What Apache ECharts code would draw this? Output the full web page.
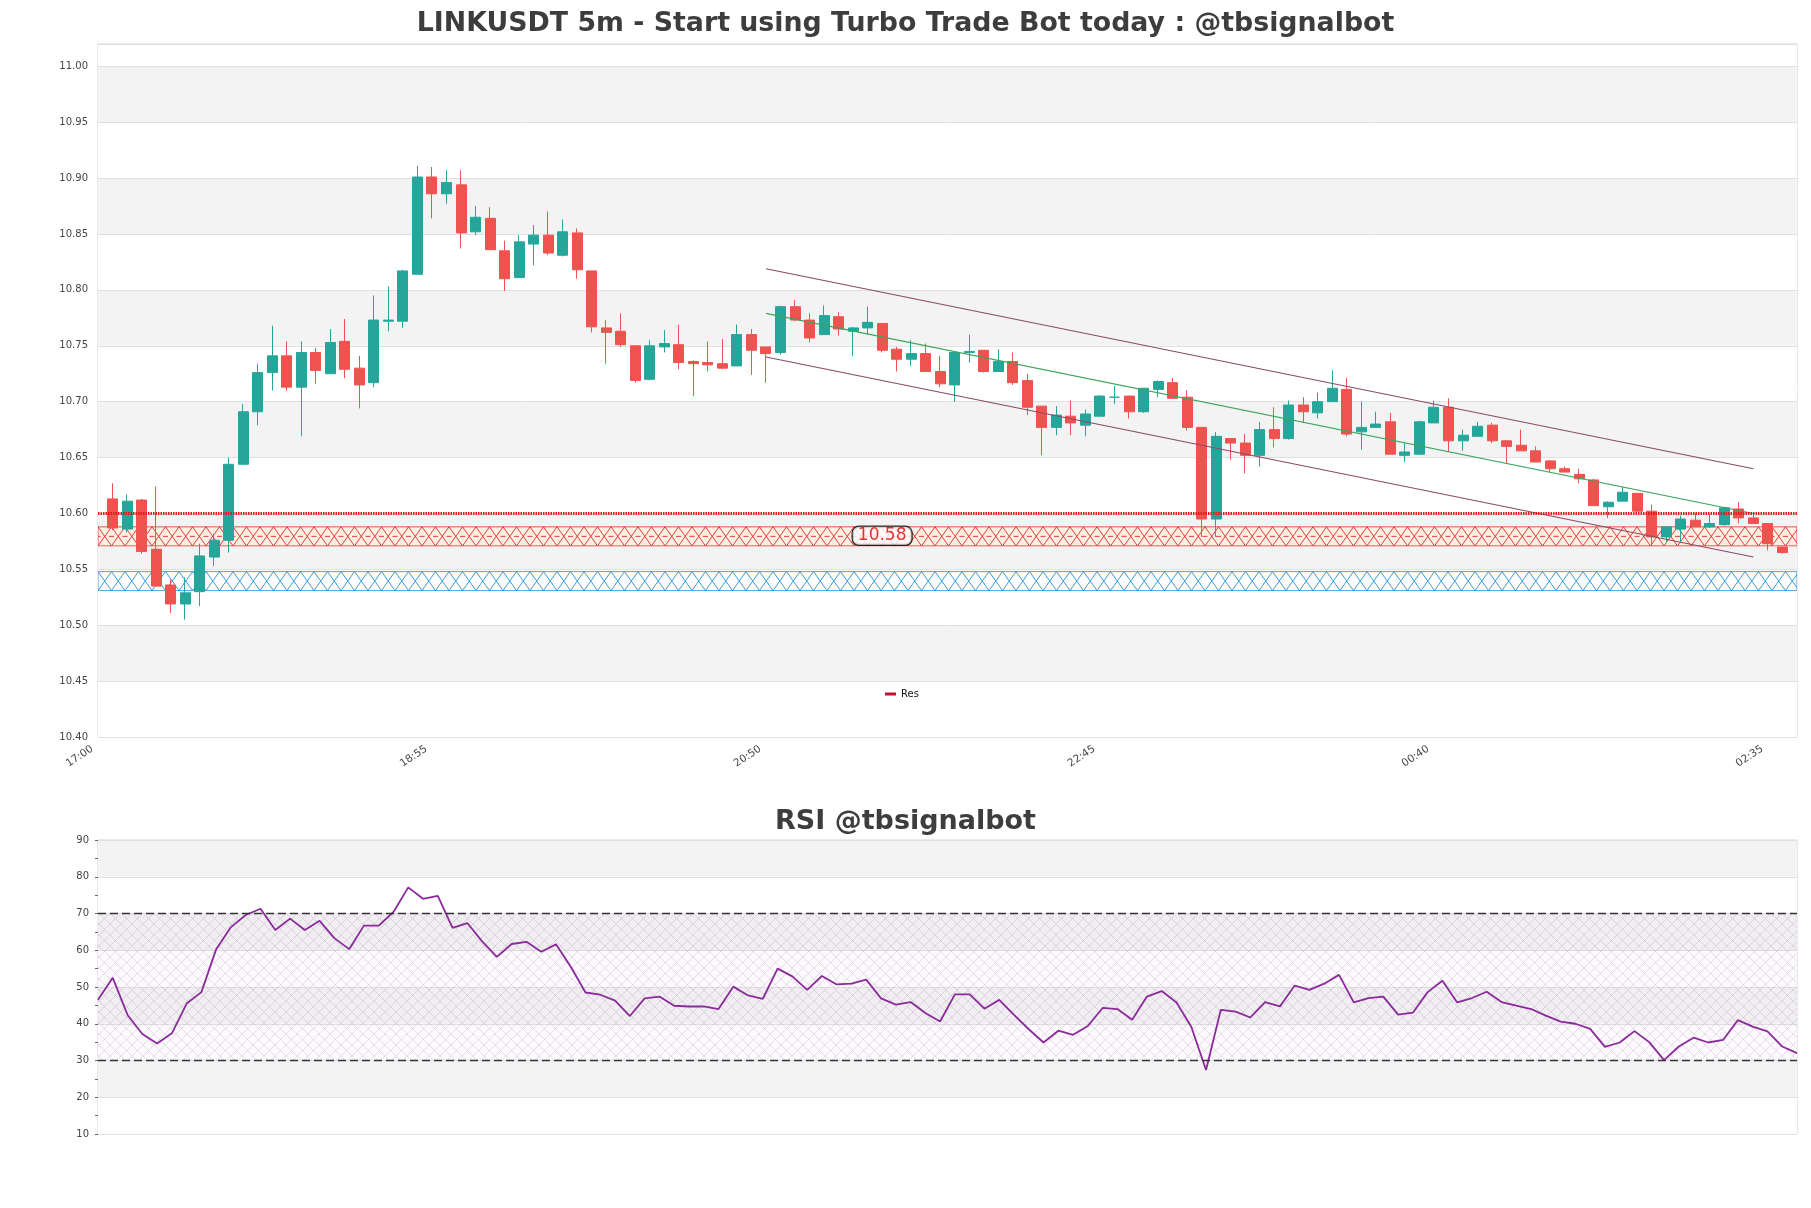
<!DOCTYPE html>
<html>
<head>
<meta charset="utf-8">
<title>LINKUSDT 5m</title>
<script src="https://cdn.jsdelivr.net/npm/echarts@6/dist/echarts.min.js"></script>
<style>
  html, body { margin: 0; padding: 0; background: #fff; }
  #chart { width: 1811px; height: 1208px; }
</style>
</head>
<body>
<div id="chart"></div>
<script>
// x axis: 5 minute slots from 17:00 to 02:45, candles sit on slots 1..116
const startMinute = 17 * 60
const stepMinutes = 5
const slotCount = 118
const xTickLabels = ['17:00', '18:55', '20:50', '22:45', '00:40', '02:35']

const opens = [
  10.613, 10.586, 10.612, 10.568, 10.536, 10.519, 10.530, 10.561, 10.576, 10.644,
  10.691, 10.726, 10.741, 10.713, 10.744, 10.725, 10.754, 10.730, 10.717, 10.772,
  10.772, 10.814, 10.901, 10.886, 10.894, 10.852, 10.864, 10.835, 10.811, 10.841,
  10.849, 10.831, 10.851, 10.817, 10.766, 10.763, 10.750, 10.720, 10.749, 10.751,
  10.736, 10.735, 10.734, 10.732, 10.760, 10.749, 10.744, 10.785, 10.773, 10.760,
  10.776, 10.763, 10.766, 10.770, 10.747, 10.738, 10.743, 10.727, 10.715, 10.744,
  10.746, 10.727, 10.736, 10.719, 10.696, 10.677, 10.687, 10.679, 10.687, 10.704,
  10.705, 10.691, 10.711, 10.717, 10.704, 10.677, 10.595, 10.667, 10.663, 10.652,
  10.675, 10.667, 10.697, 10.690, 10.700, 10.711, 10.673, 10.677, 10.682, 10.652,
  10.653, 10.681, 10.695, 10.665, 10.669, 10.679, 10.665, 10.661, 10.656, 10.647,
  10.640, 10.635, 10.630, 10.606, 10.611, 10.618, 10.602, 10.579, 10.586, 10.594,
  10.588, 10.590, 10.604, 10.596, 10.591, 10.570
]
const closes = [
  10.587, 10.611, 10.566, 10.535, 10.519, 10.529, 10.562, 10.576, 10.644, 10.691,
  10.726, 10.741, 10.713, 10.744, 10.728, 10.753, 10.729, 10.715, 10.773, 10.773,
  10.817, 10.901, 10.886, 10.896, 10.851, 10.865, 10.836, 10.810, 10.843, 10.849,
  10.833, 10.852, 10.818, 10.767, 10.762, 10.751, 10.719, 10.750, 10.752, 10.735,
  10.734, 10.733, 10.730, 10.760, 10.746, 10.743, 10.785, 10.773, 10.757, 10.777,
  10.765, 10.766, 10.771, 10.746, 10.738, 10.743, 10.727, 10.716, 10.744, 10.745,
  10.727, 10.736, 10.717, 10.695, 10.677, 10.688, 10.681, 10.689, 10.705, 10.704,
  10.691, 10.712, 10.718, 10.703, 10.677, 10.595, 10.669, 10.663, 10.652, 10.675,
  10.667, 10.697, 10.691, 10.700, 10.712, 10.671, 10.677, 10.680, 10.653, 10.655,
  10.682, 10.695, 10.665, 10.670, 10.678, 10.665, 10.660, 10.656, 10.646, 10.640,
  10.637, 10.631, 10.607, 10.610, 10.619, 10.602, 10.579, 10.588, 10.595, 10.588,
  10.591, 10.605, 10.596, 10.591, 10.573, 10.565
]
const lows = [
  10.585, 10.583, 10.564, 10.535, 10.511, 10.505, 10.517, 10.553, 10.565, 10.644,
  10.679, 10.710, 10.710, 10.669, 10.716, 10.725, 10.721, 10.694, 10.713, 10.763,
  10.766, 10.814, 10.864, 10.877, 10.837, 10.849, 10.836, 10.799, 10.811, 10.822,
  10.831, 10.830, 10.810, 10.762, 10.734, 10.749, 10.717, 10.719, 10.744, 10.729,
  10.705, 10.727, 10.729, 10.732, 10.724, 10.717, 10.742, 10.772, 10.753, 10.760,
  10.759, 10.741, 10.760, 10.744, 10.727, 10.732, 10.727, 10.713, 10.700, 10.735,
  10.726, 10.727, 10.715, 10.688, 10.652, 10.670, 10.670, 10.669, 10.687, 10.698,
  10.685, 10.690, 10.704, 10.703, 10.674, 10.579, 10.579, 10.648, 10.636, 10.642,
  10.659, 10.666, 10.681, 10.685, 10.700, 10.669, 10.657, 10.677, 10.653, 10.646,
  10.653, 10.681, 10.655, 10.656, 10.669, 10.663, 10.645, 10.656, 10.646, 10.637,
  10.637, 10.627, 10.607, 10.596, 10.611, 10.602, 10.571, 10.574, 10.574, 10.588,
  10.587, 10.589, 10.591, 10.591, 10.567, 10.564
]
const highs = [
  10.627, 10.617, 10.613, 10.624, 10.541, 10.543, 10.573, 10.582, 10.650, 10.698,
  10.734, 10.768, 10.754, 10.754, 10.748, 10.765, 10.774, 10.741, 10.795, 10.803,
  10.818, 10.911, 10.910, 10.907, 10.907, 10.875, 10.874, 10.844, 10.849, 10.858,
  10.870, 10.863, 10.855, 10.817, 10.773, 10.779, 10.750, 10.755, 10.764, 10.769,
  10.737, 10.754, 10.756, 10.769, 10.765, 10.749, 10.786, 10.791, 10.779, 10.786,
  10.780, 10.767, 10.785, 10.770, 10.749, 10.755, 10.752, 10.741, 10.744, 10.760,
  10.746, 10.747, 10.744, 10.725, 10.696, 10.696, 10.701, 10.693, 10.706, 10.714,
  10.705, 10.712, 10.719, 10.721, 10.710, 10.677, 10.673, 10.667, 10.671, 10.682,
  10.695, 10.701, 10.704, 10.708, 10.728, 10.721, 10.700, 10.691, 10.690, 10.663,
  10.683, 10.701, 10.703, 10.675, 10.682, 10.681, 10.665, 10.675, 10.660, 10.648,
  10.642, 10.640, 10.631, 10.611, 10.624, 10.618, 10.608, 10.588, 10.598, 10.600,
  10.599, 10.606, 10.610, 10.600, 10.591, 10.570
]

const rsi = [
  46.5, 52.5, 42.4, 37.2, 34.6, 37.4, 45.5, 48.6, 60.3, 66.3,
  69.6, 71.3, 65.5, 68.6, 65.5, 68.0, 63.3, 60.3, 66.7, 66.7,
  70.4, 77.1, 74.0, 74.8, 66.1, 67.4, 62.4, 58.2, 61.7, 62.3,
  59.6, 61.6, 55.5, 48.5, 47.9, 46.3, 42.1, 46.9, 47.4, 44.9,
  44.7, 44.7, 44.0, 50.1, 47.7, 46.8, 55.0, 52.9, 49.2, 53.0,
  50.7, 50.9, 52.0, 46.9, 45.2, 45.9, 42.9, 40.6, 48.0, 48.0,
  44.1, 46.5, 42.4, 38.5, 34.9, 38.1, 37.0, 39.4, 44.3, 44.0,
  41.1, 47.4, 48.9, 45.8, 39.2, 27.4, 43.8, 43.3, 41.7, 45.9,
  44.7, 50.4, 49.2, 50.9, 53.3, 45.8, 47.0, 47.4, 42.5, 43.0,
  48.6, 51.7, 45.8, 47.0, 48.7, 45.9, 44.9, 44.0, 42.2, 40.6,
  40.0, 38.6, 33.7, 34.9, 38.0, 35.0, 30.1, 33.8, 36.2, 34.9,
  35.6, 41.0, 39.2, 37.9, 33.8, 32.0
]
const rsiLevels = [70, 30]

const resLevel = 10.60
const resZone = [10.571, 10.588]
const supZone = [10.531, 10.548]
const zoneLabel = [54, 10.58]
// channel: [slot, price] end points
const upperLine = [[46, 10.819], [114, 10.640]]
const midLine = [[46, 10.779], [114, 10.600]]
const lowerLine = [[46, 10.740], [114, 10.561]]

const slots = []
for (let i = 0; i < slotCount; i++) {
  const m = (startMinute + i * stepMinutes) % (24 * 60)
  slots.push(String(Math.floor(m / 60)).padStart(2, '0') + ':' + String(m % 60).padStart(2, '0'))
}
const rsiSlots = slots.slice(1, 1 + rsi.length)
const candleData = opens.map((o, i) => [i + 1, o, closes[i], lows[i], highs[i]])

const zones = [
  { value: [0, slotCount - 1, resZone[0], resZone[1]], line: '#e3262b', fill: '#fdf0e3', mid: true },
  { value: [0, slotCount - 1, supZone[0], supZone[1]], line: '#1f93d8', fill: '#fbfdff', mid: false }
]

const FONT = 'DejaVu Sans'

function hatchCanvas (size, color) {
  const c = document.createElement('canvas')
  c.width = size
  c.height = size
  const ctx = c.getContext('2d')
  ctx.fillStyle = 'rgba(150, 90, 170, 0.03)'
  ctx.fillRect(0, 0, size, size)
  ctx.strokeStyle = color
  ctx.lineWidth = 0.6
  ctx.beginPath()
  ctx.moveTo(0, 0); ctx.lineTo(size, size)
  ctx.moveTo(size, 0); ctx.lineTo(0, size)
  ctx.stroke()
  return c
}

// zone = rect filled with an X hatch, like the matplotlib 'x' hatch
function renderZone (params, api) {
  const z = zones[params.dataIndex]
  const tl = api.coord([api.value(0), api.value(3)])
  const br = api.coord([api.value(1), api.value(2)])
  const x0 = tl[0]; const y0 = tl[1]; const x1 = br[0]; const y1 = br[1]
  const ym = (y0 + y1) / 2
  const step = 13.5
  const s = { stroke: z.line, lineWidth: 0.9 }
  const children = [{
    type: 'rect',
    shape: { x: x0, y: y0, width: x1 - x0, height: y1 - y0 },
    style: { fill: z.fill, stroke: z.line, lineWidth: 0.8 }
  }]
  for (let x = x0; x < x1; x += step) {
    children.push({ type: 'line', shape: { x1: x, y1: y0, x2: x + step, y2: y1 }, style: s })
    children.push({ type: 'line', shape: { x1: x + step, y1: y0, x2: x, y2: y1 }, style: s })
    if (z.mid) {
      children.push({ type: 'line', shape: { x1: x - 2.5, y1: ym, x2: x + 2.5, y2: ym }, style: s })
    }
  }
  return {
    type: 'group',
    clipPath: { type: 'rect', shape: { x: x0, y: y0 - 1, width: x1 - x0, height: y1 - y0 + 2 } },
    children
  }
}

const chart = echarts.init(document.getElementById('chart'))

const option = {
  animation: false,
  backgroundColor: '#fff',
  textStyle: { fontFamily: FONT },
  title: [
    {
      text: 'LINKUSDT 5m - Start using Turbo Trade Bot today : @tbsignalbot',
      left: 'center',
      top: 6,
      textStyle: { fontFamily: FONT, fontSize: 26.8, fontWeight: 'bold', color: '#3d3d3d' }
    },
    {
      text: 'RSI @tbsignalbot',
      left: 'center',
      top: 803,
      textStyle: { fontFamily: FONT, fontSize: 27, fontWeight: 'bold', color: '#3d3d3d' }
    }
  ],
  legend: {
    data: [{ name: 'Res', icon: 'rect' }],
    left: 885,
    top: 689,
    padding: 0,
    itemWidth: 11,
    itemHeight: 3,
    itemGap: 6,
    selectedMode: false,
    textStyle: { fontFamily: FONT, fontSize: 10, color: '#111' }
  },
  grid: [
    { left: 98, top: 44, width: 1699, height: 693, show: true, borderColor: '#d4d4d4', borderWidth: 1 },
    { left: 98, top: 840, width: 1699, height: 294, show: true, borderColor: '#d4d4d4', borderWidth: 1 }
  ],
  xAxis: [
    {
      type: 'category',
      gridIndex: 0,
      data: slots,
      boundaryGap: false,
      axisLine: { show: false },
      axisTick: { show: false },
      splitLine: { show: false },
      axisLabel: {
        interval: (i, v) => xTickLabels.includes(v),
        rotate: 34,
        margin: 7,
        padding: [0, 7, 0, 0],
        fontFamily: FONT,
        fontSize: 10.5,
        color: '#444'
      }
    },
    {
      type: 'category',
      gridIndex: 1,
      data: rsiSlots,
      boundaryGap: false,
      axisLine: { show: false },
      axisTick: { show: false },
      axisLabel: { show: false },
      splitLine: { show: false }
    }
  ],
  yAxis: [
    {
      type: 'value',
      gridIndex: 0,
      min: 10.40,
      max: 11.02,
      interval: 0.05,
      axisLine: { show: false },
      axisTick: { show: false },
      axisLabel: {
        showMaxLabel: false,
        formatter: v => v.toFixed(2),
        margin: 10,
        fontFamily: FONT,
        fontSize: 10,
        color: '#444'
      },
      splitLine: { lineStyle: { color: '#e0e0e0', width: 1 } },
      splitArea: { show: true, areaStyle: { color: ['#ffffff', '#f3f3f3'] } }
    },
    {
      type: 'value',
      gridIndex: 1,
      min: 10,
      max: 90,
      interval: 10,
      axisLine: { show: false },
      axisTick: { show: true, length: 3, lineStyle: { color: '#666' } },
      minorTick: { show: true, splitNumber: 2, length: 3, lineStyle: { color: '#666' } },
      axisLabel: { margin: 9, fontFamily: FONT, fontSize: 10, color: '#444' },
      splitLine: { lineStyle: { color: '#e0e0e0', width: 1 } },
      splitArea: { show: true, areaStyle: { color: ['#ffffff', '#f3f3f3'] } }
    }
  ],
  series: [
    {
      name: 'zones',
      type: 'custom',
      xAxisIndex: 0,
      yAxisIndex: 0,
      z: 1,
      silent: true,
      renderItem: renderZone,
      encode: { x: [0, 1], y: [2, 3] },
      data: zones.map(z => z.value)
    },
    {
      name: 'Res',
      type: 'line',
      xAxisIndex: 0,
      yAxisIndex: 0,
      z: 2,
      data: [],
      symbol: 'none',
      color: '#c8102e',
      markLine: {
        silent: true,
        symbol: ['none', 'none'],
        label: { show: false },
        lineStyle: { color: '#e31a1c', width: 3, type: [1.5, 1] },
        data: [{ yAxis: resLevel }]
      }
    },
    {
      name: 'candles',
      type: 'candlestick',
      xAxisIndex: 0,
      yAxisIndex: 0,
      z: 3,
      barWidth: 10.5,
      encode: { x: 0, y: [1, 2, 3, 4] },
      data: candleData,
      itemStyle: {
        color: '#26a69a',
        color0: '#ef5350',
        borderColor: '#26a69a',
        borderColor0: '#ef5350',
        borderColorDoji: '#26a69a',
        borderWidth: 1
      }
    },
    {
      name: 'upper',
      type: 'line',
      xAxisIndex: 0,
      yAxisIndex: 0,
      z: 4,
      symbol: 'none',
      data: upperLine,
      lineStyle: { color: '#8a4a6a', width: 1.1 }
    },
    {
      name: 'mid',
      type: 'line',
      xAxisIndex: 0,
      yAxisIndex: 0,
      z: 4,
      symbol: 'none',
      data: midLine,
      lineStyle: { color: '#3aa55c', width: 1.1 }
    },
    {
      name: 'lower',
      type: 'line',
      xAxisIndex: 0,
      yAxisIndex: 0,
      z: 4,
      symbol: 'none',
      data: lowerLine,
      lineStyle: { color: '#8a4a6a', width: 1.1 }
    },
    {
      name: 'zoneLabel',
      type: 'scatter',
      xAxisIndex: 0,
      yAxisIndex: 0,
      z: 5,
      symbolSize: 1,
      itemStyle: { color: 'rgba(0,0,0,0)' },
      data: [zoneLabel],
      label: {
        show: true,
        position: 'inside',
        formatter: p => p.value[1].toFixed(2),
        fontFamily: FONT,
        fontSize: 17,
        color: '#e00000',
        backgroundColor: '#ffffff',
        borderColor: '#000000',
        borderWidth: 1.3,
        borderRadius: 6,
        padding: [1, 5, 0, 5]
      }
    },
    {
      name: 'RSI',
      type: 'line',
      xAxisIndex: 1,
      yAxisIndex: 1,
      z: 3,
      symbol: 'none',
      data: rsi,
      lineStyle: { color: '#8b2a9b', width: 1.8 },
      markArea: {
        silent: true,
        itemStyle: { color: { image: hatchCanvas(11, 'rgba(150, 110, 170, 0.35)'), repeat: 'repeat' } },
        data: [[{ yAxis: rsiLevels[1] }, { yAxis: rsiLevels[0] }]]
      },
      markLine: {
        silent: true,
        symbol: ['none', 'none'],
        label: { show: false },
        lineStyle: { color: '#333', width: 1.3, type: [8, 4] },
        data: rsiLevels.map(v => ({ yAxis: v }))
      }
    }
  ]
}

chart.setOption(option)
</script>
</body>
</html>
